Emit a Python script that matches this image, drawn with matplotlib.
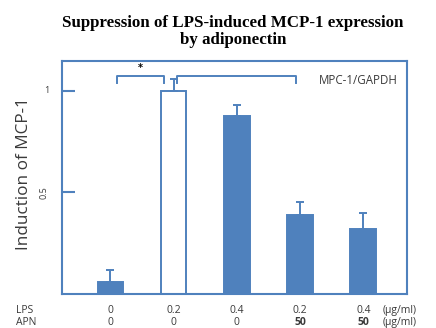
import matplotlib
matplotlib.use("Agg")
import matplotlib.pyplot as plt
import numpy as np

lps = ["0", "0.2", "0.4", "0.2", "0.4"]
apn = ["0", "0", "0", "50", "50"]
values = [0.06, 1.00, 0.876, 0.389, 0.318]
errors = [0.06, 0.058, 0.054, 0.062, 0.08]
filled = [True, False, True, True, True]
yticks = [0.5, 1.0]
ytick_labels = ["0.5", "1"]

BLUE = "#4F81BD"
TXT = "#3a3a3a"
SANS = "Open Sans"

fig = plt.figure(figsize=(4.36, 3.28), dpi=100)
ax = fig.add_axes([0.142, 0.1037, 0.791, 0.7103])

x = np.arange(len(values))
for xi, v, e, f in zip(x, values, errors, filled):
    ax.bar(xi, v, width=0.406, color=BLUE if f else "white",
           edgecolor=BLUE, linewidth=1.4, zorder=2)
    ax.errorbar(xi, v, yerr=[[0], [e]], fmt="none", ecolor=BLUE,
                elinewidth=1.4, capsize=3, capthick=1.4, zorder=3)

ax.set_xlim(-0.767, 4.688)
ax.set_ylim(0, 1.146)
ax.set_xticks([])
ax.set_yticks(yticks)
ax.set_yticklabels([])
ax.tick_params(axis="y", direction="in", length=9, width=1.5, color=BLUE)
for s in ax.spines.values():
    s.set_color(BLUE)
    s.set_linewidth(1.5)

# y tick labels
ax.text(-1.01, yticks[1], ytick_labels[1], fontsize=6.5, ha="center", va="center",
        family=SANS, color=TXT, clip_on=False)
ax.text(-1.05, yticks[0], ytick_labels[0], fontsize=6.5, ha="center", va="center",
        rotation=90, family=SANS, color=TXT, clip_on=False)

# brackets
by, bd = 1.074, 1.036
for x0, x1 in [(0.1, 0.852), (1.047, 2.928)]:
    ax.plot([x0, x0, x1, x1], [bd, by, by, bd], color=BLUE, lw=1.4,
            solid_joinstyle="round", clip_on=False, zorder=4)
ax.text(0.48, 1.11, "*", fontsize=7, ha="center", va="center", color="black",
        fontweight="bold")

ax.text(4.55, 1.049, "MPC-1/GAPDH", fontsize=8.3, ha="right", va="center",
        family=SANS, color=TXT)

# title
fig.text(0.534, 0.903, "Suppression of LPS-induced MCP-1 expression\nby adiponectin",
         fontsize=12.2, fontweight="bold", family="Liberation Serif",
         ha="center", va="center", linespacing=1.1)

# y label
fig.text(0.056, 0.47, "Induction of MCP-1", rotation=90, fontsize=12.3,
         family=SANS, ha="center", va="center", color=TXT)

# bottom table
tr = ax.get_xaxis_transform()
row1, row2 = -0.07, -0.123
FS = 7.5
ax.text(-1.5, row1, "LPS", transform=tr, fontsize=FS, family=SANS,
        ha="left", va="center", color=TXT, clip_on=False)
ax.text(-1.5, row2, "APN", transform=tr, fontsize=FS, family=SANS,
        ha="left", va="center", color=TXT, clip_on=False)
for xi, l, a in zip(x, lps, apn):
    ax.text(xi, row1, l, transform=tr, fontsize=FS, family=SANS,
            ha="center", va="center", color=TXT, clip_on=False)
    ax.text(xi, row2, a, transform=tr, fontsize=FS, family=SANS,
            ha="center", va="center", color=TXT, clip_on=False,
            fontweight="bold" if a == "50" else "normal")
for r in (row1, row2):
    ax.text(4.3, r, "(µg/ml)", transform=tr, fontsize=FS, family=SANS,
            ha="left", va="center", color=TXT, clip_on=False)

fig.savefig("out.png", dpi=100)
